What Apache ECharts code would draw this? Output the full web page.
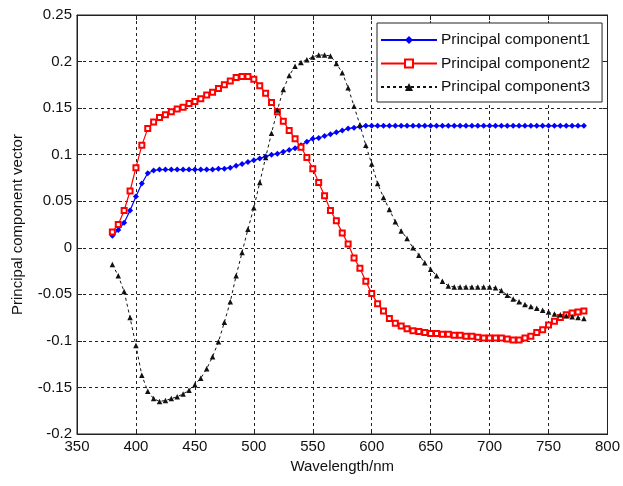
<!DOCTYPE html>
<html>
<head>
<meta charset="utf-8">
<script src="https://cdn.jsdelivr.net/npm/echarts@6/dist/echarts.min.js"></script>
<style>
  html, body { margin: 0; padding: 0; background: #fff; }
  #chart { width: 623px; height: 486px; }
</style>
</head>
<body>
<div id="chart"></div>
<script>
// wavelength, nm (5 nm steps)
var wavelengths = [];
for (var w = 380; w <= 780; w += 5) wavelengths.push(w);

var pc1 = [
  0.013, 0.019, 0.027, 0.040, 0.055, 0.069, 0.080, 0.083, 0.084, 0.084,
  0.084, 0.084, 0.084, 0.084, 0.084, 0.084, 0.084, 0.084, 0.085, 0.085,
  0.086, 0.088, 0.090, 0.092, 0.094, 0.096, 0.098, 0.100, 0.101, 0.103,
  0.105, 0.107, 0.110, 0.114, 0.117, 0.118, 0.120, 0.122, 0.124, 0.126,
  0.128, 0.129, 0.130, 0.131, 0.131, 0.131, 0.131, 0.131, 0.131, 0.131,
  0.131, 0.131, 0.131, 0.131, 0.131, 0.131, 0.131, 0.131, 0.131, 0.131,
  0.131, 0.131, 0.131, 0.131, 0.131, 0.131, 0.131, 0.131, 0.131, 0.131,
  0.131, 0.131, 0.131, 0.131, 0.131, 0.131, 0.131, 0.131, 0.131, 0.131,
  0.131
];

var pc2 = [
  0.017, 0.025, 0.040, 0.061, 0.086, 0.110, 0.128, 0.135, 0.140, 0.143,
  0.146, 0.149, 0.151, 0.155, 0.157, 0.160, 0.164, 0.167, 0.171, 0.175,
  0.179, 0.183, 0.184, 0.184, 0.181, 0.174, 0.166, 0.156, 0.146, 0.136,
  0.126, 0.117, 0.108, 0.097, 0.085, 0.070, 0.056, 0.040, 0.029, 0.016,
  0.004, -0.011, -0.022, -0.036, -0.049, -0.060, -0.068, -0.076, -0.081, -0.084,
  -0.087, -0.089, -0.090, -0.091, -0.092, -0.092, -0.093, -0.093, -0.094, -0.094,
  -0.095, -0.095, -0.096, -0.097, -0.097, -0.097, -0.097, -0.098, -0.099, -0.099,
  -0.097, -0.095, -0.091, -0.088, -0.083, -0.079, -0.075, -0.072, -0.070, -0.069,
  -0.068
];

var pc3 = [
  -0.018, -0.030, -0.047, -0.075, -0.105, -0.137, -0.154, -0.162, -0.165, -0.164,
  -0.162, -0.160, -0.157, -0.153, -0.147, -0.140, -0.130, -0.117, -0.101, -0.080,
  -0.058, -0.030, -0.005, 0.020, 0.043, 0.070, 0.097, 0.123, 0.148, 0.170,
  0.185, 0.195, 0.199, 0.202, 0.205, 0.207, 0.207, 0.206, 0.198, 0.188,
  0.172, 0.152, 0.132, 0.110, 0.090, 0.069, 0.054, 0.041, 0.028, 0.018,
  0.010, 0.000, -0.008, -0.016, -0.023, -0.030, -0.036, -0.041, -0.042, -0.042,
  -0.042, -0.042, -0.042, -0.042, -0.042, -0.043, -0.046, -0.051, -0.055, -0.058,
  -0.061, -0.063, -0.065, -0.067, -0.069, -0.071, -0.072, -0.073, -0.074, -0.075,
  -0.076
];

var seriesNames = ['Principal component1', 'Principal component2', 'Principal component3'];

function pairs(vals) {
  return wavelengths.map(function (x, i) { return [x, vals[i]]; });
}

var font = 'Liberation Sans, Arial, sans-serif';
var gridDash = [3, 3];

var myChart = echarts.init(document.getElementById('chart'));
var option = {
  backgroundColor: '#fff',
  animation: false,
  grid: {
    left: 77, right: 15, top: 15, bottom: 52,
    show: true, borderColor: '#222', borderWidth: 1
  },
  legend: {
    orient: 'vertical',
    left: 377, top: 23,
    backgroundColor: '#fff',
    borderColor: '#222', borderWidth: 1,
    borderRadius: 0,
    padding: [9, 12, 7, 3],
    itemWidth: 56, itemHeight: 10,
    itemGap: 7.5,
    textStyle: { fontFamily: font, fontSize: 15.5, color: '#111', padding: [0, 0, 0, -1] },
    data: seriesNames
  },
  xAxis: [{
    type: 'value', min: 350, max: 800, interval: 50,
    name: 'Wavelength/nm', nameLocation: 'middle', nameGap: 25,
    nameTextStyle: { fontFamily: font, fontSize: 15, color: '#111' },
    axisLine: { show: true, onZero: false, lineStyle: { color: '#222' } },
    axisTick: { inside: true, length: 5, lineStyle: { color: '#222' } },
    axisLabel: { fontFamily: font, fontSize: 15, color: '#111', margin: 5 },
    splitLine: { show: true, lineStyle: { color: '#222', type: gridDash, width: 1 } }
  }, {
    type: 'value', min: 350, max: 800, interval: 50, position: 'top',
    axisLine: { show: true, onZero: false, lineStyle: { color: '#222' } },
    axisTick: { inside: true, length: 5, lineStyle: { color: '#222' } },
    axisLabel: { show: false }, splitLine: { show: false }
  }],
  yAxis: [{
    type: 'value', min: -0.2, max: 0.25, interval: 0.05,
    name: 'Principal component vector', nameLocation: 'middle', nameGap: 52,
    nameTextStyle: { fontFamily: font, fontSize: 15, color: '#111' },
    axisLine: { show: true, onZero: false, lineStyle: { color: '#222' } },
    axisTick: { inside: true, length: 5, lineStyle: { color: '#222' } },
    axisLabel: {
      fontFamily: font, fontSize: 15, color: '#111', margin: 5,
      formatter: function (v) { return String(+v.toFixed(2)); }
    },
    splitLine: { show: true, lineStyle: { color: '#222', type: gridDash, width: 1 } }
  }, {
    type: 'value', min: -0.2, max: 0.25, interval: 0.05, position: 'right',
    axisLine: { show: true, onZero: false, lineStyle: { color: '#222' } },
    axisTick: { inside: true, length: 5, lineStyle: { color: '#222' } },
    axisLabel: { show: false }, splitLine: { show: false }
  }],
  series: [
    {
      name: seriesNames[0], type: 'line', data: pairs(pc1),
      symbol: 'diamond', symbolSize: 6,
      itemStyle: { color: '#0000ff' },
      lineStyle: { color: '#0000ff', width: 1.2 }
    },
    {
      name: seriesNames[1], type: 'line', data: pairs(pc2),
      symbol: 'emptyRect', symbolSize: 5,
      itemStyle: { color: '#ff0000', borderColor: '#ff0000', borderWidth: 1 },
      lineStyle: { color: '#ff0000', width: 1.2 }
    },
    {
      name: seriesNames[2], type: 'line', data: pairs(pc3),
      symbol: 'triangle', symbolSize: 5.5,
      itemStyle: { color: '#111' },
      lineStyle: { color: '#111', width: 1, type: [3, 3] }
    }
  ]
};

option && myChart.setOption(option);
</script>
</body>
</html>
